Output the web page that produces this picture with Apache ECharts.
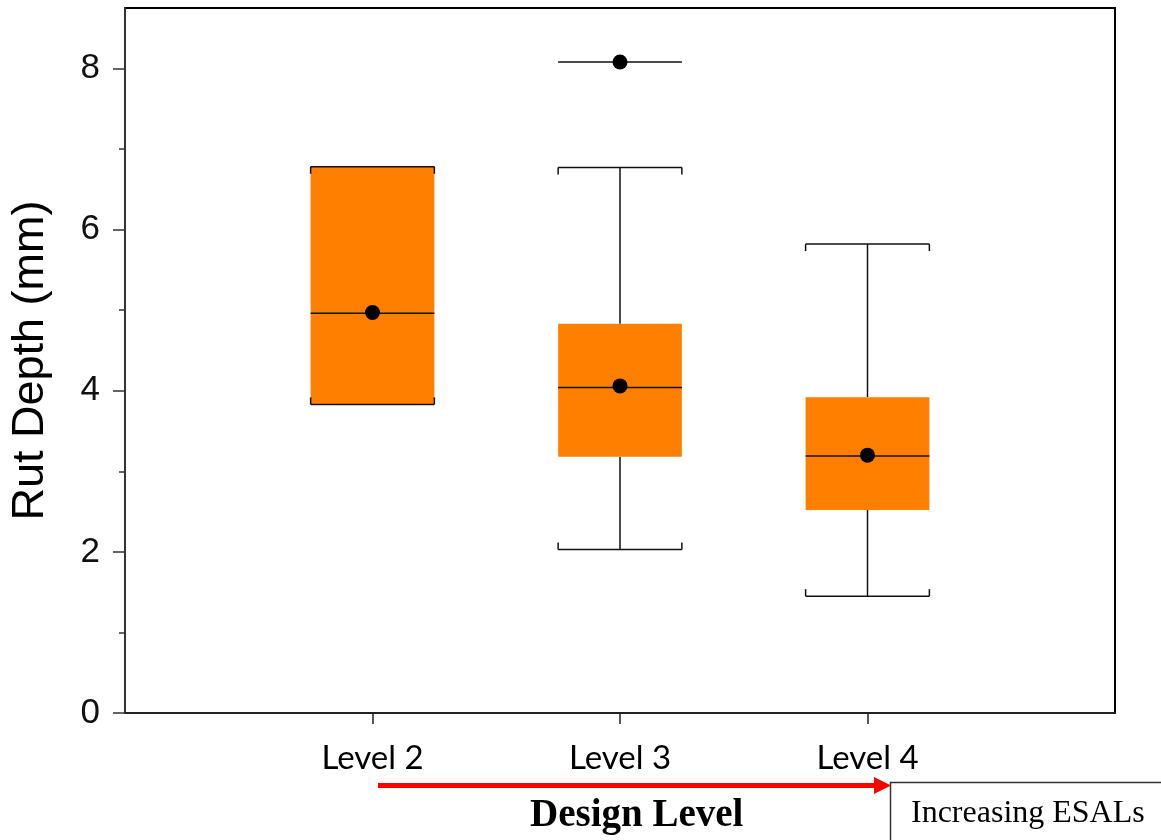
<!DOCTYPE html>
<html>
<head>
<meta charset="utf-8">
<title>Rut Depth by Design Level</title>
<script src="https://cdn.jsdelivr.net/npm/echarts@6/dist/echarts.min.js"></script>
<style>
  html, body { margin: 0; padding: 0; background: #fff; }
  #chart { width: 1161px; height: 840px; }
</style>
</head>
<body>
<div id="chart"></div>
<script>
// Box-plot summary of rut depth (mm) per design level
const categories = ['Level 2', 'Level 3', 'Level 4'];
const whiskerLow = [3.83, 2.03, 1.45];
const quartile1 = [3.83, 3.18, 2.52];
const medians = [4.96, 4.04, 3.19];
const quartile3 = [6.78, 4.83, 3.92];
const whiskerHigh = [6.78, 6.77, 5.82];
const means = [4.97, 4.06, 3.20];
const outlierLevels = ['Level 3'];
const outlierValues = [8.08];

// y-axis ticks
const yMajorTicks = [0, 2, 4, 6, 8];
const yMinorTicks = [1, 3, 5, 7];
const yMax = 8.75;

// the x axis has an empty slot on each side so the levels sit at 1, 2, 3
const xSlots = [''].concat(categories, ['']);
const slotOf = name => categories.indexOf(name) + 1;

const boxData = categories.map((c, i) => [i + 1, whiskerLow[i], quartile1[i], medians[i], quartile3[i], whiskerHigh[i]]);
const meanData = categories.map((c, i) => [i + 1, means[i]]);
const outlierData = outlierLevels.map((c, i) => [slotOf(c), outlierValues[i]]);

const INK = '#111';
const BOX_FILL = '#FF8000';

function renderBox(params, api) {
  const x = api.value(0);
  const lo = api.coord([x, api.value(1)]);
  const q1 = api.coord([x, api.value(2)]);
  const md = api.coord([x, api.value(3)]);
  const q3 = api.coord([x, api.value(4)]);
  const hi = api.coord([x, api.value(5)]);
  const half = api.size([1, 0])[0] * 0.25;
  const cx = lo[0];
  const capTick = 7;
  const line = (x1, y1, x2, y2) => ({
    type: 'line',
    shape: { x1: x1, y1: y1, x2: x2, y2: y2 },
    style: { stroke: INK, lineWidth: 1.5 }
  });
  return {
    type: 'group',
    children: [
      line(cx, hi[1], cx, q3[1]),
      line(cx, q1[1], cx, lo[1]),
      {
        type: 'rect',
        shape: { x: cx - half, y: q3[1], width: half * 2, height: q1[1] - q3[1] },
        style: { fill: BOX_FILL, stroke: null }
      },
      line(cx - half, md[1], cx + half, md[1]),
      // upper cap with small end ticks pointing down
      line(cx - half, hi[1], cx + half, hi[1]),
      line(cx - half, hi[1], cx - half, hi[1] + capTick),
      line(cx + half, hi[1], cx + half, hi[1] + capTick),
      // lower cap with small end ticks pointing up
      line(cx - half, lo[1], cx + half, lo[1]),
      line(cx - half, lo[1], cx - half, lo[1] - capTick),
      line(cx + half, lo[1], cx + half, lo[1] - capTick)
    ]
  };
}

function renderOutlierBar(params, api) {
  const p = api.coord([api.value(0), api.value(1)]);
  const half = api.size([1, 0])[0] * 0.25;
  return {
    type: 'line',
    shape: { x1: p[0] - half, y1: p[1], x2: p[0] + half, y2: p[1] },
    style: { stroke: INK, lineWidth: 1.5 }
  };
}

const chart = echarts.init(document.getElementById('chart'), null, { renderer: 'canvas' });

chart.setOption({
  backgroundColor: '#fff',
  animation: false,
  grid: {
    left: 125, right: 46, top: 8, bottom: 127,
    show: true, borderColor: '#000', borderWidth: 2, backgroundColor: 'transparent'
  },
  xAxis: {
    type: 'category',
    data: xSlots,
    boundaryGap: false,
    axisLine: { show: true, lineStyle: { color: '#222', width: 2 } },
    axisTick: {
      show: true, length: 11, inside: false,
      interval: (idx) => idx > 0 && idx < xSlots.length - 1,
      lineStyle: { color: '#222', width: 1.5 }
    },
    axisLabel: {
      show: true, margin: 29, color: '#000',
      fontFamily: 'Lato, "Open Sans", sans-serif', fontSize: 33,
      interval: 0
    },
    splitLine: { show: false }
  },
  yAxis: [
    {
      type: 'value',
      min: 0, max: yMax,
      name: 'Rut Depth (mm)',
      nameLocation: 'middle',
      nameGap: 72,
      nameTextStyle: { fontFamily: '"Liberation Sans", Arial, sans-serif', fontSize: 45, color: '#000' },
      axisLine: { show: true, lineStyle: { color: '#333', width: 2 } },
      axisTick: { show: true, length: 12, customValues: yMajorTicks, lineStyle: { color: '#333', width: 1.5 } },
      axisLabel: {
        show: true, customValues: yMajorTicks, margin: 25, color: '#111',
        padding: [6, 0, 0, 0],
        fontFamily: '"Liberation Sans", Arial, sans-serif', fontSize: 35
      },
      splitLine: { show: false }
    },
    {
      type: 'value',
      min: 0, max: yMax,
      position: 'left',
      axisLine: { show: false },
      axisTick: { show: true, length: 6, customValues: yMinorTicks, lineStyle: { color: '#333', width: 1.5 } },
      axisLabel: { show: false },
      splitLine: { show: false }
    }
  ],
  series: [
    {
      type: 'custom',
      name: 'box',
      renderItem: renderBox,
      encode: { x: 0, y: [1, 2, 3, 4, 5] },
      data: boxData,
      z: 2
    },
    {
      type: 'custom',
      name: 'outlier bar',
      renderItem: renderOutlierBar,
      encode: { x: 0, y: 1 },
      data: outlierData,
      z: 2
    },
    {
      type: 'scatter',
      name: 'mean',
      data: meanData,
      symbol: 'circle',
      symbolSize: 15,
      itemStyle: { color: '#000', opacity: 1 },
      z: 3
    },
    {
      type: 'scatter',
      name: 'outlier',
      data: outlierData,
      symbol: 'circle',
      symbolSize: 15,
      itemStyle: { color: '#000', opacity: 1 },
      z: 3
    }
  ],
  graphic: [
    {
      type: 'line',
      shape: { x1: 378, y1: 785.5, x2: 876, y2: 785.5 },
      style: { stroke: '#FF0000', lineWidth: 5 },
      z: 10
    },
    {
      type: 'polygon',
      shape: { points: [[874, 777], [891, 785.5], [874, 794]] },
      style: { fill: '#FF0000' },
      z: 10
    },
    {
      type: 'text',
      left: 530, top: 796,
      style: {
        text: 'Design Level',
        font: 'bold 39px "Liberation Serif", "Times New Roman", serif',
        fill: '#000'
      },
      z: 10
    },
    {
      type: 'rect',
      shape: { x: 890.5, y: 782.5, width: 320, height: 120 },
      style: { fill: '#fff', stroke: '#333', lineWidth: 1.5 },
      z: 9
    },
    {
      type: 'text',
      left: 911, top: 798,
      style: {
        text: 'Increasing ESALs',
        font: '32px "Liberation Serif", "Times New Roman", serif',
        fill: '#000'
      },
      z: 10
    }
  ]
});
</script>
</body>
</html>
